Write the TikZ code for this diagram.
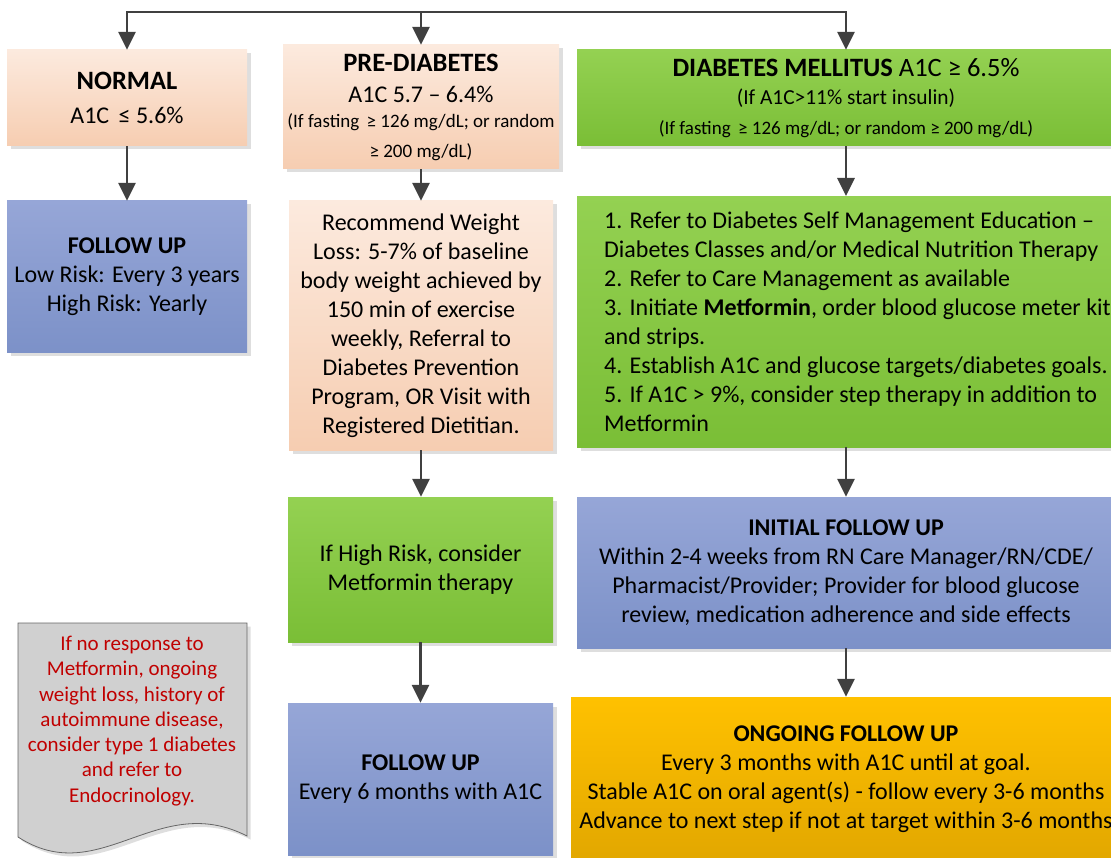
\documentclass[tikz,border=0pt]{standalone}
\usepackage{fontspec}
\setmainfont{Carlito}
\usetikzlibrary{arrows.meta,shadows,calc}
\definecolor{peachT}{RGB}{252,234,222}
\definecolor{peachB}{RGB}{246,205,177}
\definecolor{blueT}{RGB}{150,166,215}
\definecolor{blueB}{RGB}{124,145,200}
\definecolor{greenT}{RGB}{148,209,82}
\definecolor{greenB}{RGB}{122,190,54}
\definecolor{yelT}{RGB}{255,193,0}
\definecolor{yelB}{RGB}{226,167,0}
\definecolor{noteGray}{RGB}{208,208,208}
\definecolor{noteRed}{RGB}{192,0,0}
\definecolor{arrowGray}{RGB}{64,64,64}
\newcommand\fs[2]{\fontsize{#1}{#2}\selectfont}
\begin{document}
\begin{tikzpicture}[x=1pt,y=-1pt,
  box/.style={draw=none, align=center, inner sep=0pt, font=\fs{24}{29},
    drop shadow={shadow xshift=3.5pt, shadow yshift=-3.5pt, fill=black!13, opacity=1}},
  peach/.style={box, top color=peachT, bottom color=peachB},
  bluebox/.style={box, top color=blueT, bottom color=blueB},
  greenbox/.style={box, top color=greenT, bottom color=greenB},
  yelbox/.style={box, top color=yelT, bottom color=yelB},
  line/.style={draw=arrowGray, line width=2.8pt},
  arr/.style={line, -{Triangle[length=18pt,width=17pt]}},
  notetext/.style={align=center, font=\fs{21}{25.3}, text=noteRed, inner sep=0pt}]
\useasboundingbox (0,0) rectangle (1111,858);

% left column
\node[peach, minimum width=240, minimum height=96] (normal) at (127,98)
  {{\fs{26.5}{32}\bfseries NORMAL}\\[5pt] A1C \,≤ 5.6\%};
\node[bluebox, minimum width=240, minimum height=152] (fu1) at (127,277)
  {\bfseries FOLLOW UP\\ Low Risk: Every 3 years\\ High Risk: Yearly};

% middle column
\node[peach, minimum width=276, minimum height=124] (pre) at (421,107)
  {{\fs{26.5}{32}\bfseries PRE-DIABETES}\\[2pt]
   A1C 5.7 – 6.4\%\\[-4pt]
   {\fs{19}{23}(If fasting \,≥ 126 mg/dL; or random}\\[1pt]
   {\fs{19}{23}≥ 200 mg/dL)}};
\node[peach, minimum width=264, minimum height=249] (rec) at (421,325.5)
  {Recommend Weight\\ Loss: 5-7\% of baseline\\ body weight achieved by\\
   150 min of exercise\\ weekly, Referral to\\ Diabetes Prevention\\
   Program, OR Visit with\\ Registered Dietitian.};
\node[greenbox, minimum width=265, minimum height=145] (hr) at (420.5,569.5)
  {If High Risk, consider\\ Metformin therapy};
\node[bluebox, minimum width=265, minimum height=152] (fu2) at (420.5,779)
  {\bfseries FOLLOW UP\\ Every 6 months with A1C};

% right column
\node[greenbox, minimum width=538, minimum height=96] (dm) at (846,98)
  {{\fs{26.5}{32}\textbf{DIABETES MELLITUS} A1C ≥ 6.5\%}\\[-1pt]
   {\fs{21.4}{26}(If A1C>11\% start insulin)}\\[1pt]
   {\fs{19}{23}(If fasting \,≥ 126 mg/dL; or random ≥ 200 mg/dL)}};
\node[greenbox, align=left, anchor=north west, inner xsep=27pt,
      minimum width=538, minimum height=251] (list) at (577,196)
  {1. Refer to Diabetes Self Management Education –\\
   Diabetes Classes and/or Medical Nutrition Therapy\\
   2. Refer to Care Management as available\\
   3. Initiate \textbf{Metformin}, order blood glucose meter kit\\
   and strips.\\
   4. Establish A1C and glucose targets/diabetes goals.\\
   5. If A1C > 9\%, consider step therapy in addition to\\
   Metformin};
\node[bluebox, minimum width=538, minimum height=151] (init) at (846,572.5)
  {\bfseries INITIAL FOLLOW UP\\
   Within 2-4 weeks from RN Care Manager/RN/CDE/\\
   Pharmacist/Provider; Provider for blood glucose\\
   review, medication adherence and side effects};
\node[yelbox, minimum width=550, minimum height=164] (ong) at (846,779)
  {\bfseries ONGOING FOLLOW UP\\
   Every 3 months with A1C until at goal.\\
   Stable A1C on oral agent(s) - follow every 3-6 months\\
   Advance to next step if not at target within 3-6 months};

% note (document shape)
\fill[black!13] (21.5,626.5) -- (250.5,626.5) -- (250.5,839.5)
  .. controls (160.5,793.5) and (103.5,893.5) .. (21.5,840.5) -- cycle;
\draw[draw=black!60, fill=noteGray, line width=0.8pt] (18,623) -- (247,623) -- (247,836)
  .. controls (157,790) and (100,890) .. (18,837) -- cycle;
\node[notetext] (note) at (132,721)
  {If no response to\\ Metformin, ongoing\\ weight loss, history of\\
   autoimmune disease,\\ consider type 1 diabetes\\ and refer to\\ Endocrinology.};

% connectors
\coordinate (t1) at (127,12);
\coordinate (t2) at (421,12);
\coordinate (t3) at (846,12);
\draw[line, line cap=rect] (t1) -- (t3);
\draw[arr] (t1) -- (normal.north);
\draw[arr] (t2) -- (pre.north);
\draw[arr] (t3) -- (dm.north);
\draw[arr] (normal.south) -- (fu1.north);
\draw[arr] (pre.south) -- (rec.north);
\draw[arr] (rec.south) -- (rec.south |- hr.north);
\draw[arr] (hr.south) -- (fu2.north);
\draw[arr] (dm.south) -- (dm.south |- list.north);
\draw[arr] (dm.south |- list.south) -- (dm.south |- init.north);
\draw[arr] (init.south) -- (ong.north);
\end{tikzpicture}
\end{document}
